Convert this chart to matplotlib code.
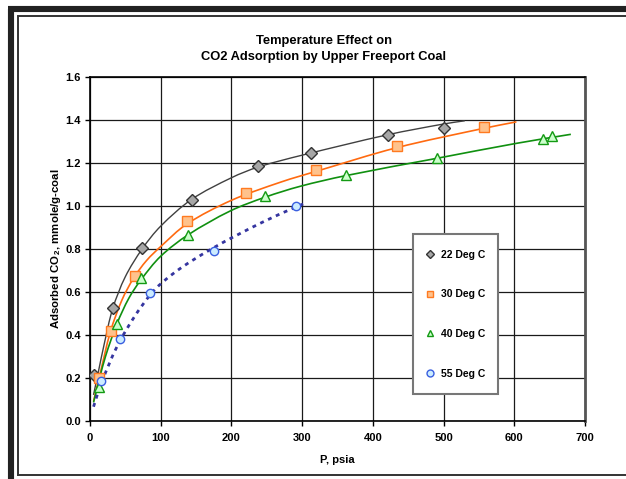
import matplotlib
matplotlib.use("Agg")
import matplotlib.pyplot as plt
import numpy as np
from matplotlib.path import Path
from matplotlib.patches import PathPatch
from matplotlib.lines import Line2D

plt.rcParams['font.family'] = ['Liberation Sans', 'DejaVu Sans']
plt.rcParams['font.weight'] = 'bold'
plt.rcParams['mathtext.fontset'] = 'custom'
plt.rcParams['mathtext.bf'] = 'Liberation Sans:bold'
plt.rcParams['mathtext.rm'] = 'Liberation Sans:bold'
plt.rcParams['mathtext.default'] = 'bf'

# ---- measured points ----
labels = ['22 Deg C', '30 Deg C', '40 Deg C', '55 Deg C']

p22 = [6, 32, 74, 144, 238, 313, 421, 500]
v22 = [0.213, 0.526, 0.805, 1.027, 1.183, 1.247, 1.329, 1.363]

p30 = [13, 29, 63, 137, 221, 320, 434, 557]
v30 = [0.197, 0.419, 0.675, 0.930, 1.058, 1.166, 1.276, 1.368]

p40 = [13, 38, 72, 139, 248, 362, 490, 640, 653]
v40 = [0.157, 0.452, 0.662, 0.866, 1.044, 1.141, 1.220, 1.310, 1.323]

p55 = [16, 43, 85, 175, 292]
v55 = [0.185, 0.382, 0.595, 0.791, 1.000]

# ---- trend lines ----
c22_p = [5, 12, 20, 32, 50, 74, 100, 144, 200, 238, 300, 421, 500, 530]
c22_v = [0.12, 0.23, 0.355, 0.52, 0.67, 0.80, 0.905, 1.03, 1.13, 1.18, 1.235, 1.33, 1.38, 1.395]

c30_p = [5, 14, 29, 45, 62, 80, 100, 137, 200, 270, 320, 434, 557, 603]
c30_v = [0.09, 0.215, 0.415, 0.56, 0.665, 0.745, 0.81, 0.915, 1.025, 1.11, 1.16, 1.27, 1.36, 1.39]

c40_p = [5, 13, 22, 38, 55, 72, 100, 139, 198, 248, 297, 362, 490, 603, 680]
c40_v = [0.085, 0.19, 0.30, 0.45, 0.57, 0.655, 0.765, 0.865, 0.975, 1.04, 1.09, 1.14, 1.22, 1.29, 1.332]

c55_p = [5, 16, 43, 85, 120, 175, 245, 292, 303]
c55_v = [0.065, 0.175, 0.375, 0.585, 0.69, 0.805, 0.925, 0.995, 1.01]

xticks = [0, 100, 200, 300, 400, 500, 600, 700]
yticks = [0.0, 0.2, 0.4, 0.6, 0.8, 1.0, 1.2, 1.4, 1.6]

W, H = 626, 479
fig = plt.figure(figsize=(W / 100, H / 100), dpi=100)
fig.patch.set_facecolor('white')
ax = fig.add_axes([90 / W, 1 - 420.7 / H, 495 / W, 344 / H])


def smooth(xs, ys):
    """Chord-length Catmull-Rom spline turned into cubic Bezier path."""
    P = np.column_stack([xs, ys]).astype(float)
    N = P * np.array([495.0 / 700.0, 344.0 / 1.6])
    d = np.sqrt(((N[1:] - N[:-1]) ** 2).sum(axis=1))
    t = np.concatenate([[0.0], np.cumsum(d)])
    n = len(P)
    m = np.zeros_like(P)
    for i in range(n):
        a = max(i - 1, 0)
        b = min(i + 1, n - 1)
        m[i] = (P[b] - P[a]) / (t[b] - t[a])
    verts = [P[0]]
    codes = [Path.MOVETO]
    for i in range(n - 1):
        h = t[i + 1] - t[i]
        verts += [P[i] + m[i] * h / 3.0, P[i + 1] - m[i + 1] * h / 3.0, P[i + 1]]
        codes += [Path.CURVE4] * 3
    return Path(verts, codes)


curves = [
    (c22_p, c22_v, '#404040', '-', 1.0),
    (c30_p, c30_v, '#FF6A10', '-', 1.2),
    (c40_p, c40_v, '#109010', '-', 1.2),
    (c55_p, c55_v, '#3535A0', (0, (1.4, 1.7)), 2.0),
]
for cp, cv, col, ls, lw in curves:
    ax.add_patch(PathPatch(smooth(cp, cv), facecolor='none', edgecolor=col,
                           lw=lw, linestyle=ls, transform=ax.transData, zorder=3,
                           capstyle='butt'))

styles = [
    (p22, v22, 'D', 6.0, '#A6A6A6', '#333333'),
    (p30, v30, 's', 7.0, '#FFC28C', '#FF7A20'),
    (p40, v40, '^', 7.0, '#CCFFCC', '#139A13'),
    (p55, v55, 'o', 6.0, '#CCECFF', '#3A5FE0'),
]
for (px, pv, m, ms, fc, ec) in styles:
    ax.plot(px, pv, linestyle='none', marker=m, markersize=ms,
            markerfacecolor=fc, markeredgecolor=ec, markeredgewidth=1.0, zorder=4)

ax.set_xlim(0, 700)
ax.set_ylim(0, 1.6)
ax.set_xticks(xticks)
ax.set_yticks(yticks)
ax.set_xticklabels([str(t) for t in xticks])
ax.set_yticklabels(['%.1f' % t for t in yticks])
ax.grid(True, color='#1a1a1a', lw=0.9)
ax.set_axisbelow(True)
for s in ax.spines.values():
    s.set_color('black')
    s.set_linewidth(1.2)
ax.spines['right'].set_color('#555555')
ax.spines['right'].set_linewidth(2.0)
ax.tick_params(axis='both', direction='out', length=3.5, width=1.0,
               labelsize=8, pad=3, colors='black')
ax.tick_params(axis='x', pad=5)
for lab in ax.get_xticklabels() + ax.get_yticklabels():
    lab.set_fontweight('bold')

ax.set_xlabel('P, psia', fontsize=8, fontweight='bold', labelpad=9)
ax.set_ylabel(r'Adsorbed CO$_{\,2}$, mmole/g-coal', fontsize=8.2,
              fontweight='bold', labelpad=2)
fig.text(324 / W, 1 - 49 / H, 'Temperature Effect on\nCO2 Adsorption by Upper Freeport Coal',
         ha='center', va='center', fontsize=9.3, fontweight='bold', linespacing=1.45)

handles = []
for (px, pv, m, ms, fc, ec) in styles:
    handles.append(Line2D([], [], linestyle='none', marker=m,
                          markersize={'D': 4.0, 's': 5.0, '^': 5.0, 'o': 5.0}[m],
                          markerfacecolor=fc, markeredgecolor=ec, markeredgewidth=1.0))
leg = ax.legend(handles, labels, loc='upper left',
                bbox_to_anchor=(0.652, 0.542, 0.173, 0.0), mode='expand',
                frameon=True, fancybox=False, framealpha=1, edgecolor='#777777',
                prop={'size': 7.5, 'weight': 'bold'}, labelspacing=2.84,
                borderpad=1.5, handlelength=0.4, handletextpad=0.8,
                borderaxespad=0)
leg.get_frame().set_linewidth(1.5)
leg.set_zorder(6)


def fx(x):
    return x / W


def fy(y):
    return 1 - y / H


fig.add_artist(Line2D([fx(11), fx(11)], [fy(9), fy(480)], color='#222222', lw=4.4,
                      transform=fig.transFigure, solid_capstyle='butt'))
fig.add_artist(Line2D([fx(8), fx(627)], [fy(9), fy(9)], color='#222222', lw=4.4,
                      transform=fig.transFigure, solid_capstyle='butt'))
fig.add_artist(Line2D([fx(17.8), fx(17.8), fx(627)], [fy(475.3), fy(15.6), fy(15.6)],
                      color='#333333', lw=1.4, transform=fig.transFigure,
                      solid_joinstyle='miter'))
fig.add_artist(Line2D([fx(17.8), fx(627)], [fy(475.3), fy(475.3)],
                      color='#333333', lw=1.4, transform=fig.transFigure))

fig.savefig('out.png', dpi=100, facecolor='white')
